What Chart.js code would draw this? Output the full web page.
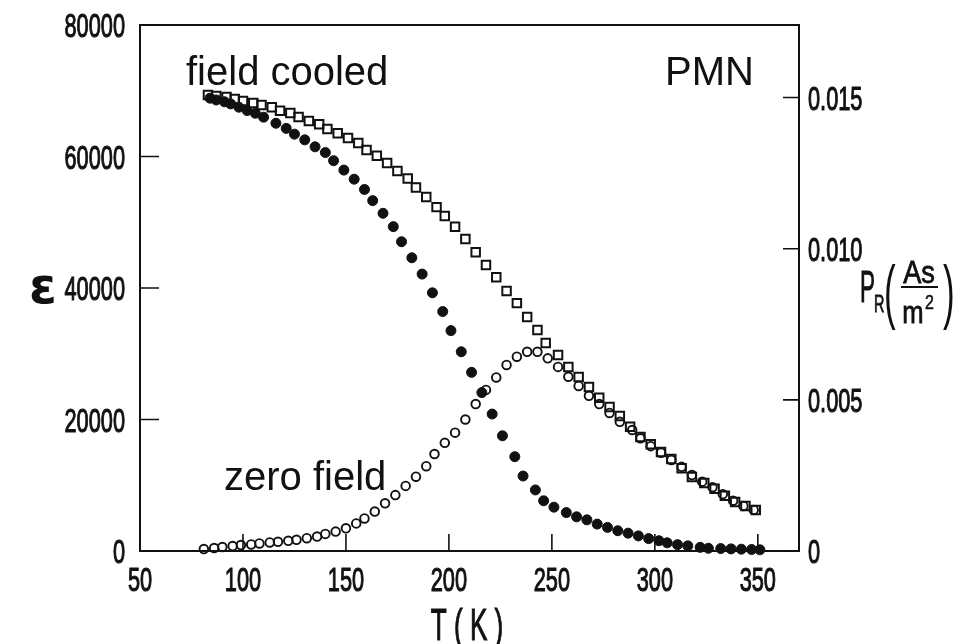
<!DOCTYPE html>
<html>
<head>
<meta charset="utf-8">
<script src="https://cdn.jsdelivr.net/npm/chart.js@4.4.1/dist/chart.umd.min.js"></script>
<style>
  html, body { margin: 0; padding: 0; background: #fff; }
  #chart { display: block; }
</style>
</head>
<body>
<canvas id="chart" width="977" height="644"></canvas>
<script>
// field cooled permittivity (open squares, left axis)
const tFieldCooled = [83, 87, 92, 96, 100, 105, 109, 114, 118, 123, 127, 132, 137, 141, 146, 151, 156, 160, 165, 170,
  175, 180, 184, 189, 194, 198, 203, 208, 213, 218, 223, 228, 233, 238, 243, 247, 253, 258, 263, 268,
  273, 278, 283, 288, 293, 298, 303, 308, 313, 318, 324, 329, 334, 339, 344, 349];
const epsFieldCooled = [69350, 69200, 69050, 68750, 68450, 68150, 67850, 67500, 66950, 66600, 66000, 65400, 64900, 64200, 63550, 62800, 62050, 61000, 60100, 59000,
  57800, 56650, 55300, 53850, 52300, 50950, 49300, 47450, 45450, 43500, 41650, 39550, 37700, 35600, 33600, 31650, 29800, 28000, 26450, 24950,
  23300, 21900, 20550, 18900, 17350, 16250, 15050, 14000, 12600, 11250, 10350, 9450, 8400, 7450, 6850, 6250];

// zero field permittivity (open circles, left axis)
const tZeroField = [81, 86, 90, 95, 99, 104, 108, 113, 117, 122, 126, 131, 136, 140, 145, 150, 155, 159, 164, 169,
  174, 179, 184, 189, 193, 198, 203, 208, 213, 218, 223, 228, 233, 238, 243, 248, 253, 258, 263, 268,
  273, 278, 283, 289, 293, 298, 303, 308, 313, 318, 323, 328, 333, 338, 343, 348];
const epsZeroField = [300, 450, 600, 750, 900, 1000, 1150, 1300, 1400, 1550, 1700, 1950, 2200, 2600, 2950, 3450, 4200, 4950, 6000, 7250,
  8500, 9900, 11300, 12900, 14750, 16450, 18000, 20000, 22350, 24500, 26400, 28300, 29550, 30300, 30300, 29300, 28000, 26500, 25100, 23600,
  22350, 21000, 19650, 18400, 17150, 15950, 14950, 13850, 12800, 11550, 10550, 9700, 8650, 7650, 6850, 6250];

// remanent polarisation (filled circles, right axis)
const tPol = [84, 87, 91, 94, 98, 102, 106, 110, 116, 121, 125, 130, 135, 140, 144, 149, 154, 159, 163, 168,
  173, 177, 182, 187, 192, 197, 201, 206, 211, 216, 221, 226, 232, 236, 242, 246, 251, 257, 262, 267,
  272, 277, 282, 287, 292, 297, 302, 306, 311, 316, 322, 326, 332, 337, 342, 347, 351];
const polR = [0.01498, 0.01492, 0.01486, 0.01479, 0.01468, 0.01457, 0.01448, 0.01435, 0.01415, 0.01398, 0.01379, 0.01360, 0.01337, 0.01318, 0.01291, 0.01260, 0.01230, 0.01196, 0.01159, 0.01117,
  0.01073, 0.01023, 0.00970, 0.00916, 0.00854, 0.00792, 0.00729, 0.00659, 0.00591, 0.00524, 0.00453, 0.00381, 0.00312, 0.00248, 0.00202, 0.00166, 0.00145, 0.00127, 0.00113, 0.00103,
  0.00089, 0.00078, 0.00067, 0.00059, 0.00050, 0.00041, 0.00034, 0.00027, 0.00021, 0.00017, 0.00012, 0.00009, 0.00008, 0.00007, 0.00006, 0.00005, 0.00004];

const xTicks = ['50', '100', '150', '200', '250', '300', '350'];
const epsTicks = ['0', '20000', '40000', '60000', '80000'];
const polTicks = ['0', '0.005', '0.010', '0.015'];

const ink = '#111';
const sans = '"Liberation Sans", Arial, sans-serif';

const pts = (xs, ys) => xs.map((x, i) => ({ x: x, y: ys[i] }));

// the scan uses a tall condensed lettering, so squeeze Liberation Sans sideways
function squeezed(ctx, txt, x, y, size, sx, align, heavy) {
  ctx.save();
  ctx.translate(x, y);
  ctx.scale(sx, 1);
  ctx.font = size + 'px ' + sans;
  ctx.textAlign = align || 'left';
  ctx.textBaseline = 'alphabetic';
  ctx.fillText(txt, 0, 0);
  if (heavy) {
    ctx.strokeStyle = ink;
    ctx.lineWidth = heavy;
    ctx.strokeText(txt, 0, 0);
  }
  ctx.restore();
}

const frame = {
  id: 'frame',
  beforeDatasetsDraw(chart) {
    const { ctx, chartArea: a, scales } = chart;
    ctx.save();
    ctx.strokeStyle = ink;
    ctx.lineWidth = 2;
    ctx.strokeRect(a.left, a.top, a.right - a.left, a.bottom - a.top);
    ctx.lineWidth = 1.6;
    ctx.beginPath();
    scales.x.ticks.forEach(t => {
      const px = scales.x.getPixelForValue(t.value);
      ctx.moveTo(px, a.bottom);
      ctx.lineTo(px, a.bottom - 17);
    });
    scales.y.ticks.forEach(t => {
      const py = scales.y.getPixelForValue(t.value);
      ctx.moveTo(a.left, py);
      ctx.lineTo(a.left + 19, py);
    });
    scales.y2.ticks.forEach(t => {
      const py = scales.y2.getPixelForValue(t.value);
      ctx.moveTo(a.right, py);
      ctx.lineTo(a.right - 16, py);
    });
    ctx.stroke();
    ctx.restore();
  },
  afterDraw(chart) {
    const { ctx, chartArea: a, scales } = chart;
    ctx.save();
    ctx.fillStyle = ink;
    // tick labels, placed by the scales
    scales.x.ticks.forEach((t, i) => {
      squeezed(ctx, xTicks[i], scales.x.getPixelForValue(t.value), a.bottom + 40, 34, 0.64, 'center', 1.1);
    });
    scales.y.ticks.forEach((t, i) => {
      squeezed(ctx, epsTicks[i], a.left - 15, scales.y.getPixelForValue(t.value) + 12, 34, 0.64, 'right', 1.1);
    });
    scales.y2.ticks.forEach((t, i) => {
      squeezed(ctx, polTicks[i], a.right + 9, scales.y2.getPixelForValue(t.value) + 12, 34, 0.64, 'left', 1.1);
    });
    // annotations
    ctx.font = '40px ' + sans;
    ctx.textAlign = 'left';
    ctx.textBaseline = 'alphabetic';
    ctx.fillText('field cooled', 186, 85);
    ctx.fillText('PMN', 665, 85);
    ctx.fillText('zero field', 224, 490);
    // axis titles
    squeezed(ctx, 'T ( K )', 467, 640, 45, 0.58, 'center', 1.1);
    ctx.font = 'bold 50px "DejaVu Sans", sans-serif';
    ctx.textAlign = 'center';
    ctx.textBaseline = 'middle';
    ctx.fillText('ε', 43, 290);
    const dy = 6;
    squeezed(ctx, 'P', 860, 296 + dy, 45, 0.5, 'left', 1);
    squeezed(ctx, 'R', 874, 306 + dy, 24, 0.6, 'left', 0.8);
    squeezed(ctx, '(', 884, 309 + dy, 70, 0.5, 'left');
    squeezed(ctx, 'As', 919, 277 + dy, 32, 0.85, 'center', 0.8);
    squeezed(ctx, 'm', 913, 317 + dy, 32, 0.8, 'center', 0.8);
    squeezed(ctx, '2', 925, 303 + dy, 20, 0.8, 'left', 0.6);
    squeezed(ctx, ')', 943, 309 + dy, 70, 0.5, 'left');
    ctx.strokeStyle = ink;
    ctx.lineWidth = 2;
    ctx.beginPath();
    ctx.moveTo(901, 281 + dy);
    ctx.lineTo(938, 281 + dy);
    ctx.stroke();
    ctx.restore();
  }
};

const hidden = { display: false };

new Chart(document.getElementById('chart'), {
  type: 'scatter',
  data: {
    datasets: [
      {
        label: 'field cooled',
        data: pts(tFieldCooled, epsFieldCooled),
        yAxisID: 'y',
        pointStyle: 'rect',
        pointRadius: 6,
        borderWidth: 2,
        borderColor: ink,
        backgroundColor: 'rgba(255,255,255,0)',
        clip: false
      },
      {
        label: 'zero field',
        data: pts(tZeroField, epsZeroField),
        yAxisID: 'y',
        pointStyle: 'circle',
        pointRadius: 4.3,
        borderWidth: 1.9,
        borderColor: ink,
        backgroundColor: 'rgba(255,255,255,0)',
        clip: false
      },
      {
        label: 'P_R',
        data: pts(tPol, polR),
        yAxisID: 'y2',
        pointStyle: 'circle',
        pointRadius: 5,
        borderWidth: 1,
        borderColor: ink,
        backgroundColor: ink,
        clip: false
      }
    ]
  },
  options: {
    responsive: false,
    animation: false,
    devicePixelRatio: 1,
    layout: { padding: { top: 25, left: 0, right: 0, bottom: 0 } },
    plugins: { legend: { display: false }, tooltip: { enabled: false } },
    scales: {
      x: {
        type: 'linear',
        min: 50,
        max: 370,
        afterBuildTicks: s => { s.ticks = xTicks.map(v => ({ value: Number(v) })); },
        ticks: hidden,
        grid: { display: false, drawTicks: false },
        border: { display: false },
        afterFit: s => { s.height = 93; }
      },
      y: {
        position: 'left',
        min: 0,
        max: 80000,
        afterBuildTicks: s => { s.ticks = epsTicks.map(v => ({ value: Number(v) })); },
        ticks: hidden,
        grid: { display: false, drawTicks: false },
        border: { display: false },
        afterFit: s => { s.width = 140; }
      },
      y2: {
        position: 'right',
        min: 0,
        max: 0.0174,
        afterBuildTicks: s => { s.ticks = polTicks.map(v => ({ value: Number(v) })); },
        ticks: hidden,
        grid: { display: false, drawTicks: false },
        border: { display: false },
        afterFit: s => { s.width = 178; }
      }
    }
  },
  plugins: [frame]
});
</script>
</body>
</html>
